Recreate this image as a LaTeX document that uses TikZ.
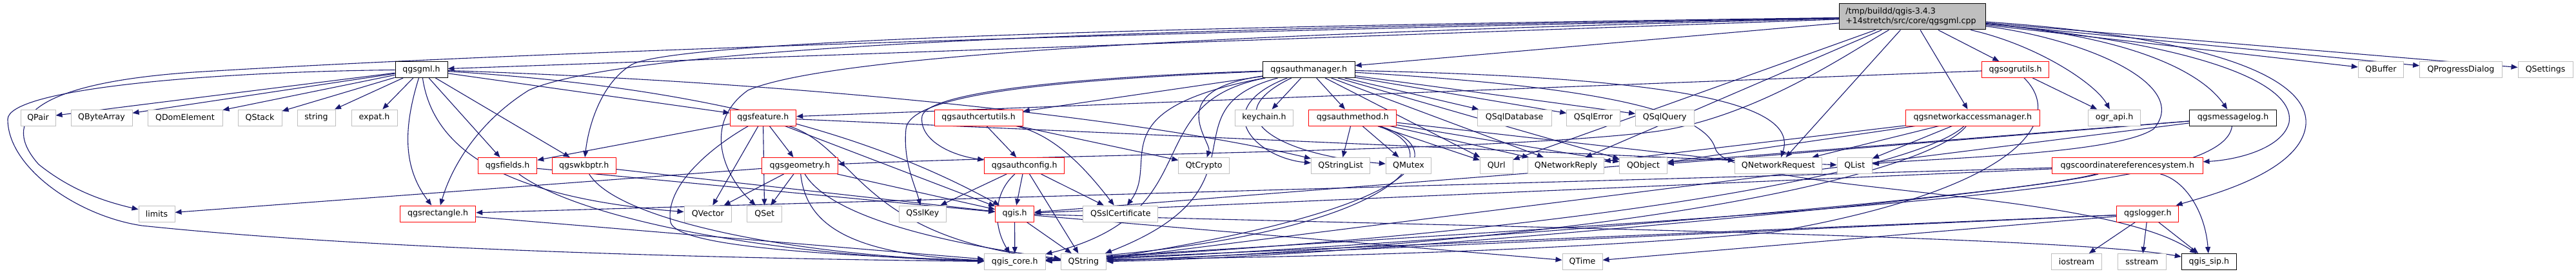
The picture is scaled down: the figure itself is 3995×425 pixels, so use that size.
\documentclass[tikz,border=0pt]{standalone}
\usepackage{fontspec}
\newfontfamily\djfam{DejaVu Sans}
\usetikzlibrary{arrows.meta}
\definecolor{navy}{RGB}{25,25,112}
\definecolor{greyb}{RGB}{191,191,191}
\pgfdeclarelayer{bg}
\pgfsetlayers{bg,main}
\tikzset{
  box/.style={draw, line width=1pt, fill=white, minimum height=25pt, inner sep=0pt, font={\djfam\fontsize{12.6}{15}\selectfont}},
  gbox/.style={box, draw=greyb},
  rbox/.style={box, draw=red},
  kbox/.style={box, draw=black},
  e/.style={draw=navy, line width=1.1pt, -{Triangle[length=10pt,width=8pt]}},
}
\begin{document}
\begin{tikzpicture}[x=1pt,y=-1pt]
\useasboundingbox (0,0) rectangle (3995,425);
% title
\node[draw=black, fill=greyb, line width=1pt, minimum height=40pt, inner xsep=10pt, inner ysep=0pt, text width=207pt, align=left, font={\djfam\fontsize{12.6}{15}\selectfont}] (T) at (2965.8,26) {/tmp/buildd/qgis-3.4.3\\+14stretch/src/core/qgsgml.cpp};
% row 1
\node[kbox, minimum width=81pt] (gml) at (653.5,108) {qgsgml.h};
\node[kbox, minimum width=142.5pt] (authmgr) at (2029.8,108) {qgsauthmanager.h};
\node[rbox, minimum width=103.6pt] (ogrutils) at (3125.6,108) {qgsogrutils.h};
\node[gbox, minimum width=70.4pt] (qbuffer) at (3692.5,108) {QBuffer};
\node[gbox, minimum width=127.6pt] (qprog) at (3816.4,108) {QProgressDialog};
\node[gbox, minimum width=85pt] (qsettings) at (3947.5,108) {QSettings};
% row 2
\node[gbox, minimum width=54pt] (qpair) at (59,182.5) {QPair};
\node[gbox, minimum width=95pt] (qbytearray) at (157.5,182.5) {QByteArray};
\node[gbox, minimum width=116pt] (qdom) at (287,182.5) {QDomElement};
\node[gbox, minimum width=68pt] (qstack) at (403,182.5) {QStack};
\node[gbox, minimum width=59pt] (strg) at (490.5,182.5) {string};
\node[gbox, minimum width=71pt] (expat) at (580.5,182.5) {expat.h};
\node[rbox, minimum width=102.7pt] (feature) at (1183.4,182.5) {qgsfeature.h};
\node[rbox, minimum width=137.3pt] (certutils) at (1517.7,182.5) {qgsauthcertutils.h};
\node[gbox, minimum width=90.4pt] (keychain) at (1960.5,182.5) {keychain.h};
\node[rbox, minimum width=136pt] (authmethod) at (2097.8,182.5) {qgsauthmethod.h};
\node[gbox, minimum width=114.8pt] (sqldb) at (2348.6,182.5) {QSqlDatabase};
\node[gbox, minimum width=82.5pt] (sqlerr) at (2471,182.5) {QSqlError};
\node[gbox, minimum width=90.4pt] (sqlq) at (2581.8,182.5) {QSqlQuery};
\node[rbox, minimum width=208.2pt] (nam) at (3059.3,182.5) {qgsnetworkaccessmanager.h};
\node[gbox, minimum width=81.3pt] (ograpi) at (3279,182.5) {ogr\_api.h};
\node[kbox, minimum width=134.8pt] (msglog) at (3463.1,182.5) {qgsmessagelog.h};
% row 3
\node[rbox, minimum width=91.2pt] (fields) at (787.1,257) {qgsfields.h};
\node[rbox, minimum width=98.6pt] (wkbptr) at (905.7,257) {qgswkbptr.h};
\node[rbox, minimum width=117.3pt] (geometry) at (1240.4,257) {qgsgeometry.h};
\node[rbox, minimum width=124pt] (authconfig) at (1588.6,257) {qgsauthconfig.h};
\node[gbox, minimum width=78.7pt] (qtcrypto) at (1867.2,257) {QtCrypto};
\node[gbox, minimum width=91.5pt] (qstringlist) at (2079.2,257) {QStringList};
\node[gbox, minimum width=70.5pt] (qmutex) at (2184.5,257) {QMutex};
\node[gbox, minimum width=50.6pt] (qurl) at (2320.7,257) {QUrl};
\node[gbox, minimum width=117.3pt] (qnreply) at (2428.6,257) {QNetworkReply};
\node[gbox, minimum width=73.4pt] (qobject) at (2548.5,257) {QObject};
\node[gbox, minimum width=134.7pt] (qnreq) at (2757.8,257) {QNetworkRequest};
\node[gbox, minimum width=54.4pt] (qlist) at (2876.2,257) {QList};
\node[rbox, minimum width=233.6pt] (crs) at (3299.2,257) {qgscoordinatereferencesystem.h};
% row 4
\node[gbox, minimum width=56pt] (limits) at (243,331.5) {limits};
\node[rbox, minimum width=117.3pt] (rect) at (679.1,331.5) {qgsrectangle.h};
\node[gbox, minimum width=73.6pt] (qvector) at (1097.8,331.5) {QVector};
\node[gbox, minimum width=54.5pt] (qset) at (1185.7,331.5) {QSet};
\node[gbox, minimum width=72.9pt] (qsslkey) at (1430.8,331.5) {QSslKey};
\node[rbox, minimum width=60pt] (qgis) at (1573.6,331.5) {qgis.h};
\node[gbox, minimum width=116pt] (qsslcert) at (1737.9,331.5) {QSslCertificate};
\node[rbox, minimum width=96pt] (logger) at (3330.8,331.5) {qgslogger.h};
% row 5
\node[gbox, minimum width=94.4pt] (qgiscore) at (1573.8,406) {qgis\_core.h};
\node[gbox, minimum width=70.5pt] (qstring) at (1680.4,406) {QString};
\node[gbox, minimum width=62pt] (qtime) at (2454,406) {QTime};
\node[gbox, minimum width=78pt] (iostream) at (3220.5,406) {iostream};
\node[gbox, minimum width=74.6pt] (sstream) at (3321.7,406) {sstream};
\node[kbox, minimum width=85pt] (qgissip) at (3425.8,406) {qgis\_sip.h};

\begin{pgfonlayer}{bg}
% title edges
\draw[e] (T) -- (gml);
\draw[e] (T) .. controls (2000,45) and (900,75) .. (300,112) .. controls (40,130) and (2,190) .. (60,255) .. controls (110,295) and (160,312) .. (limits);
\draw[e] (T) -- (authmgr);
\draw[e] (T) .. controls (2000,42) and (1000,60) .. (820,140) .. controls (740,190) and (700,260) .. (rect);
\draw[e] (T) .. controls (1900,40) and (1060,60) .. (980,100) .. controls (930,130) and (912,200) .. (wkbptr);
\draw[e] (T) .. controls (2000,50) and (1300,80) .. (1160,140) .. controls (1090,190) and (1120,270) .. (qset);
\draw[e] (T) .. controls (2870,80) and (2720,185) .. (2560,205) .. controls (2300,235) and (1700,238) .. (geometry);
\draw[e] (T) -- (qnreq);
\draw[e] (T) -- (qurl);
\draw[e] (T) -- (qnreply);
\draw[e] (T) -- (ogrutils);
\draw[e] (T) -- (nam);
\draw[e] (T) .. controls (3160,70) and (3250,130) .. (ograpi);
\draw[e] (T) .. controls (3230,60) and (3400,130) .. (3340,200) .. controls (3280,240) and (3000,245) .. (qlist);
\draw[e] (T) .. controls (3330,60) and (3420,120) .. (msglog);
\draw[e] (T) .. controls (3420,70) and (3560,130) .. (3550,190) .. controls (3540,230) and (3470,248) .. (crs);
\draw[e] (T) .. controls (3460,60) and (3590,130) .. (3575,200) .. controls (3560,270) and (3420,305) .. (logger);
\draw[e] (T) -- (qbuffer);
\draw[e] (T) -- (qprog);
\draw[e] (T) -- (qsettings);
% qgsgml.h
\foreach \t in {qpair,qbytearray,qdom,qstack,strg,expat,fields,wkbptr,feature} \draw[e] (gml) -- (\t);
\draw[e] (gml) .. controls (625,200) and (625,260) .. (rect);
\draw[e] (gml) .. controls (670,220) and (760,305) .. (qvector);
\draw[e] (gml) .. controls (1000,130) and (1300,180) .. (qgis);
\draw[e] (gml) .. controls (1300,130) and (1800,190) .. (qstringlist);
\draw[e] (gml) .. controls (300,112) and (12,140) .. (12,185) .. controls (12,260) and (120,335) .. (220,350) .. controls (600,390) and (1200,402) .. (qgiscore);
% qgsfeature.h
\foreach \t in {fields,geometry,qvector,qset,qgis,qlist} \draw[e] (feature) -- (\t);
\draw[e] (feature) .. controls (1100,230) and (1030,290) .. (1040,345) .. controls (1050,380) and (1250,395) .. (qgiscore);
\draw[e] (feature) .. controls (1330,230) and (1330,370) .. (qstring);
% qgsgeometry.h
\foreach \t in {qvector,qset,limits,qgis} \draw[e] (geometry) -- (\t);
\draw[e] (geometry) .. controls (1250,350) and (1320,395) .. (qgiscore);
\draw[e] (geometry) .. controls (1290,340) and (1480,380) .. (qstring);
% fields, wkbptr, rect
\draw[e] (fields) .. controls (900,340) and (1200,398) .. (qgiscore);
\draw[e] (fields) -- (qgis);
\draw[e] (wkbptr) .. controls (960,345) and (1250,398) .. (qgiscore);
\draw[e] (wkbptr) -- (qgis);
\draw[e] (rect) -- (qgiscore);
% qgsauthmanager.h
\foreach \t in {keychain,authmethod,sqldb,sqlerr,sqlq,qurl,qnreply,qobject,certutils} \draw[e] (authmgr) -- (\t);
\draw[e] (authmgr) .. controls (2600,120) and (2790,160) .. (qnreq);
\draw[e] (authmgr) .. controls (1700,118) and (1440,140) .. (1430,180) .. controls (1425,215) and (1470,240) .. (authconfig);
\draw[e] (authmgr) .. controls (1600,125) and (1410,150) .. (1405,200) .. controls (1400,250) and (1420,290) .. (qsslkey);
\draw[e] (authmgr) .. controls (1800,140) and (1880,220) .. (qtcrypto);
\draw[e] (authmgr) .. controls (1870,170) and (1950,245) .. (qstringlist);
\draw[e] (authmgr) .. controls (1880,180) and (1980,240) .. (qmutex);
\draw[e] (authmgr) .. controls (1700,170) and (1800,250) .. (qsslcert);
\draw[e] (authmgr) .. controls (1800,170) and (1980,290) .. (qstring);
\draw[e] (authmgr) .. controls (1760,160) and (1880,330) .. (qgiscore);
\draw[e] (authmgr) .. controls (2400,130) and (2640,160) .. (2660,230) .. controls (2680,300) and (3250,290) .. (qgissip);
% qgsauthmethod.h
\foreach \t in {qstringlist,qmutex,qurl,qnreply,qobject,qnreq} \draw[e] (authmethod) -- (\t);
\draw[e] (authmethod) .. controls (2250,230) and (2230,320) .. (qstring);
\draw[e] (authmethod) .. controls (2270,240) and (2150,370) .. (qgiscore);
% qgsauthcertutils.h
\draw[e] (certutils) -- (authconfig);
\draw[e] (certutils) .. controls (1640,210) and (1690,270) .. (qsslcert);
\draw[e] (certutils) -- (qtcrypto);
% qgsauthconfig.h
\foreach \t in {qsslkey,qgis,qstring,qsslcert} \draw[e] (authconfig) -- (\t);
\draw[e] (authconfig) .. controls (1540,300) and (1540,350) .. (qgiscore);
% qgis.h
\foreach \t in {qgiscore,qstring,qtime} \draw[e] (qgis) -- (\t);
\draw[e] (qgis) .. controls (2200,350) and (3200,365) .. (qgissip);
% crs
\draw[e] (crs) -- (rect);
\draw[e] (crs) -- (qgis);
\draw[e] (crs) .. controls (3100,310) and (2000,395) .. (qgiscore);
\draw[e] (crs) .. controls (3150,300) and (2100,400) .. (qstring);
\draw[e] (crs) .. controls (3390,280) and (3420,330) .. (qgissip);
% msglog
\foreach \t in {qobject,qgis,qstring} \draw[e] (msglog) -- (\t);
\draw[e] (msglog) .. controls (3450,290) and (3000,320) .. (qgiscore);
% logger
\foreach \t in {iostream,sstream,qgissip,qtime,qstring,qgiscore} \draw[e] (logger) -- (\t);
% nam
\foreach \t in {qnreq,qlist,qobject,qnreply} \draw[e] (nam) -- (\t);
\draw[e] (nam) .. controls (2980,260) and (2500,360) .. (qgiscore);
\draw[e] (nam) .. controls (3000,260) and (2600,370) .. (qstring);
% ogrutils
\draw[e] (ogrutils) -- (feature);
\draw[e] (ogrutils) -- (ograpi);
\draw[e] (ogrutils) .. controls (3200,180) and (3150,290) .. (2750,360) .. controls (2300,400) and (1800,400) .. (qgiscore);
\end{pgfonlayer}
\end{tikzpicture}
\end{document}
